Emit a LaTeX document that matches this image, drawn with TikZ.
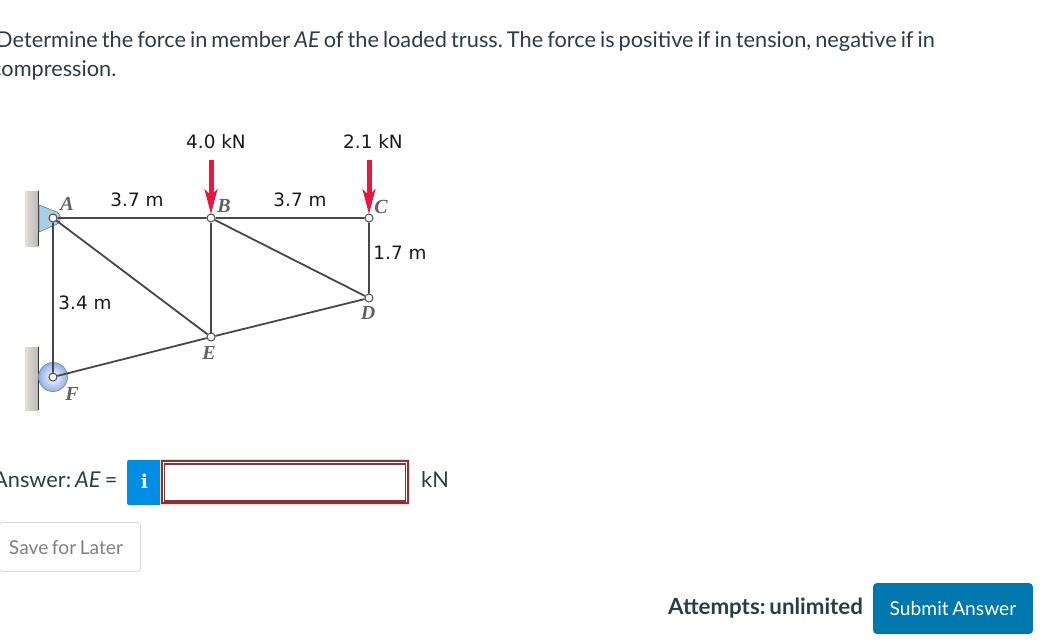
\documentclass[tikz,border=0pt]{standalone}
\usepackage{fontspec}
\setmainfont{Lato}[WordSpace=0.72]
\newfontfamily\dimfont{DejaVu Sans}
\newfontfamily\letfont{Liberation Serif}
\newfontfamily\infofont{DejaVu Serif}
\usetikzlibrary{arrows.meta,positioning,calc}
\definecolor{inktext}{HTML}{2D3B45}
\definecolor{wallgray}{HTML}{BDB8B1}
\definecolor{padblue}{HTML}{A9CFE6}
\definecolor{loadred}{HTML}{E8173F}
\definecolor{infoblue}{HTML}{008EE2}
\definecolor{boxred}{HTML}{843534}
\definecolor{submitblue}{HTML}{0077AD}
\tikzset{
  joint/.style={circle,draw=black!70,fill=white,line width=1pt,inner sep=0pt,minimum size=8pt},
  member/.style={draw=black!72,line width=1.8pt},
  wall/.style={left color=wallgray!45!white,right color=wallgray,draw=none},
  load/.style={draw=loadred,line width=5pt,-{Triangle[length=25pt,width=12.5pt,inset=6pt]},shorten >=-1pt},
  dim/.style={font=\dimfont\fontsize{18.4}{20}\selectfont,text=black!90,inner sep=0pt},
  let/.style={font=\letfont\itshape\bfseries\fontsize{20}{20}\selectfont,text=black!62,inner sep=0pt},
  txt/.style={font=\fontsize{21.75}{26}\selectfont,text=inktext,inner sep=0pt,anchor=base west}
}
\begin{document}
\frenchspacing
\begin{tikzpicture}[x=1pt,y=-1pt]
\useasboundingbox (0,0) rectangle (1048,643);
% question text
\node[txt] (line1) at (-4,47) {Determine the force in member \textit{AE} of the loaded truss. The force is positive if in tension, negative if in};
\node[txt] (line2) at (-9,76) {compression.};
% walls and supports
\shade[wall] (25,191) rectangle (38,246);
\shade[wall] (25,347) rectangle (38,410);
\draw[black!80,line width=1pt] (38.5,191) -- (38.5,246);
\draw[black!80,line width=1pt] (38.5,347) -- (38.5,410);
\filldraw[fill=padblue,draw=black!55,line width=0.6pt] (39,205) -- (57,212) arc (-60:60:7) -- (39,232) -- cycle;
\shade[inner color=white,outer color=padblue!85!blue,draw=black!50,line width=0.6pt] (53,377) circle (14.5);
% joints
\node[joint] (A) at (53,218) {};
\node[joint] (B) at (211,218) {};
\node[joint] (C) at (369,218) {};
\node[joint] (D) at (369,298) {};
\node[joint] (E) at (211,337) {};
\node[joint] (F) at (53,377) {};
\draw[member] (A)--(B)--(C)--(D)--(E)--(F)--(A);
\draw[member] (A)--(E);
\draw[member] (B)--(E);
\draw[member] (B)--(D);
% loads
\coordinate (loadB) at (211,160);
\coordinate (loadC) at (369,160);
\draw[load] (loadB)--(B);
\draw[load] (loadC)--(C);
% labels
\node[let] (labelA) at (67,204) {A};
\node[let] (labelB) at (224,206) {B};
\node[let] (labelC) at (381,207) {C};
\node[let] (labelD) at (368,313) {D};
\node[let] (labelE) at (209,353) {E};
\node[let] (labelF) at (72,394) {F};
\node[dim] (loadlabB) at (216,142) {4.0 kN};
\node[dim] (loadlabC) at (373,142) {2.1 kN};
\node[dim] (dimAB) at (137,200) {3.7 m};
\node[dim] (dimBC) at (300,200) {3.7 m};
\node[dim] (dimCD) at (400,253) {1.7 m};
\node[dim] (dimAF) at (85,303) {3.4 m};
% answer row
\node[txt] (answer) at (-7,487) {Answer: \textit{AE} =};
\fill[infoblue,rounded corners=2pt] (127,460) rectangle (165,505);
\node[font=\infofont\bfseries\fontsize{19}{20}\selectfont,text=white,inner sep=0pt] (info) at (144.5,481) {i};
\fill[boxred!18,rounded corners=1pt] (160,459) rectangle (410,505.5);
\node[draw=boxred,line width=2pt,fill=white,minimum width=246pt,minimum height=42pt,inner sep=0pt] (input) at (285,482.3) {};
\draw[boxred,line width=1.6pt] ([shift={(3.5,-3.5)}]input.south west) rectangle ([shift={(-3.5,3.5)}]input.north east);
\node[txt] (unit) at (421,487) {kN};
\node[draw=black!15,line width=0.8pt,rounded corners=3pt,minimum width=141pt,minimum height=49pt,inner sep=0pt] (save) at (70,547) {};
\node[font=\fontsize{19.2}{22}\selectfont,text=black!50,inner sep=0pt] (savetxt) at (66,547.5) {Save for Later};
% submit row
\node[txt,font=\bfseries\fontsize{22.3}{26}\selectfont] (attempts) at (668,614) {Attempts: unlimited};
\node[fill=submitblue,rounded corners=4pt,minimum width=160pt,minimum height=51pt,inner sep=0pt,text=white,font=\fontsize{19.2}{22}\selectfont] (submit) at (953,608.5) {Submit Answer};
\end{tikzpicture}
\end{document}
